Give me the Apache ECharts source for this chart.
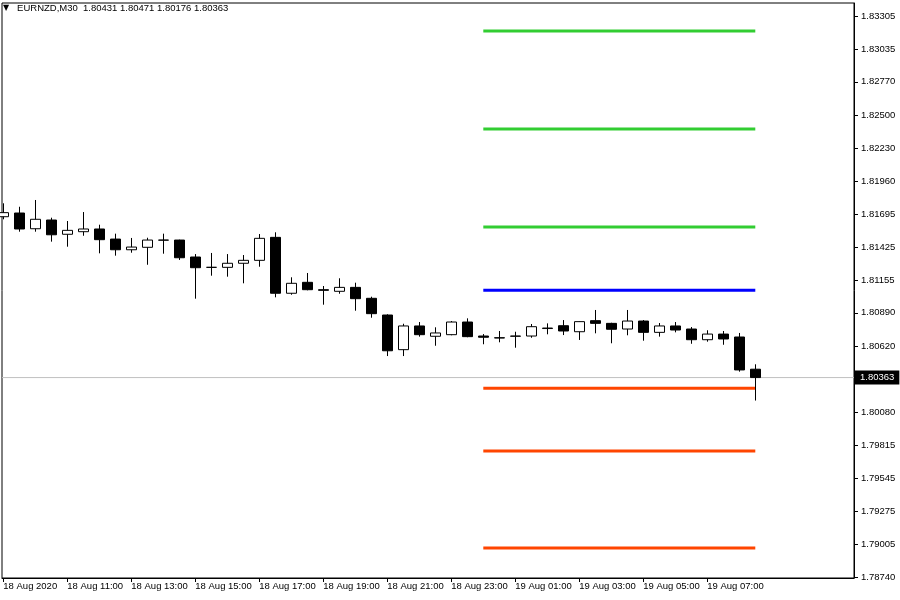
<!DOCTYPE html>
<html><head><meta charset="utf-8">
<script src="https://cdn.jsdelivr.net/npm/echarts@6/dist/echarts.min.js"></script>
<style>html,body{margin:0;padding:0;background:#fff}#c{width:900px;height:600px}</style>
</head><body><div id="c"></div>
<script>
const symbolName = 'EURNZD,M30';
// 30-minute bars from 18 Aug 2020 09:00 to 19 Aug 08:30 (index 0..47)
const opens = [1.81672,1.81702,1.81574,1.81645,1.81529,1.81550,1.81572,1.81490,1.81403,1.81423,
1.81481,1.81482,1.81344,1.81260,1.81260,1.81293,1.81317,1.81504,1.81049,1.81138,
1.81078,1.81065,1.81097,1.81008,1.80872,1.80590,1.80783,1.80699,1.80712,1.80815,
1.80701,1.80687,1.80699,1.80701,1.80762,1.80785,1.80736,1.80826,1.80804,1.80758,
1.80823,1.80731,1.80783,1.80758,1.80671,1.80717,1.80693,1.80431];
const closes = [1.81705,1.81572,1.81651,1.81525,1.81561,1.81572,1.81485,1.81403,1.81425,1.81482,
1.81482,1.81338,1.81257,1.81260,1.81293,1.81317,1.81496,1.81049,1.81130,1.81078,
1.81073,1.81097,1.81005,1.80883,1.80581,1.80783,1.80712,1.80726,1.80815,1.80696,
1.80691,1.80685,1.80701,1.80777,1.80766,1.80742,1.80818,1.80804,1.80756,1.80823,
1.80731,1.80783,1.80750,1.80671,1.80717,1.80677,1.80425,1.80363];
const lows = [1.81651,1.81550,1.81550,1.81469,1.81428,1.81517,1.81374,1.81355,1.81379,1.81281,
1.81371,1.81320,1.81005,1.81192,1.81184,1.81130,1.81265,1.81016,1.81037,1.81073,
1.80956,1.81045,1.80907,1.80850,1.80538,1.80538,1.80696,1.80622,1.80707,1.80691,
1.80634,1.80650,1.80606,1.80687,1.80715,1.80709,1.80669,1.80723,1.80642,1.80707,
1.80663,1.80696,1.80731,1.80638,1.80655,1.80630,1.80411,1.80176];
const highs = [1.81781,1.81753,1.81808,1.81664,1.81637,1.81710,1.81607,1.81534,1.81499,1.81501,
1.81534,1.81485,1.81368,1.81377,1.81368,1.81360,1.81531,1.81545,1.81179,1.81214,
1.81108,1.81171,1.81135,1.81021,1.80878,1.80801,1.80815,1.80772,1.80823,1.80845,
1.80717,1.80742,1.80736,1.80799,1.80804,1.80831,1.80820,1.80913,1.80809,1.80913,
1.80831,1.80807,1.80815,1.80774,1.80748,1.80742,1.80726,1.80471];

const xTickBars = [0,4,8,12,16,20,24,28,32,36,40,44];
const xTickLabels = ['18 Aug 2020','18 Aug 11:00','18 Aug 13:00','18 Aug 15:00','18 Aug 17:00','18 Aug 19:00',
  '18 Aug 21:00','18 Aug 23:00','19 Aug 01:00','19 Aug 03:00','19 Aug 05:00','19 Aug 07:00'];
const yTicks = [1.83305,1.83035,1.82770,1.82500,1.82230,1.81960,1.81695,1.81425,1.81155,1.80890,1.80620,
  1.80080,1.79815,1.79545,1.79275,1.79005,1.78740];

// pivot-style levels drawn from bar 30 (19 Aug 00:00) to bar 47
const levelValues = [1.83183,1.82386,1.81588,1.81073,1.80276,1.79765,1.78976];
const levelFromBar = 30, levelToBar = 47;
const levelColors = ['#32CD32','#32CD32','#32CD32','#0000FF','#FF4500','#FF4500','#FF4500'];

const lastIdx = closes.length - 1;
const lastPrice = closes[lastIdx];
const font = '"Liberation Sans", Arial, sans-serif';
const xMin = -0.08125, xMax = 53.169;

const candleData = opens.map((o, i) => [i, o, closes[i], lows[i], highs[i]]);

const levelSeries = levelValues.map((v, i) => ({
  type: 'line', silent: true, symbol: 'none', animation: false,
  data: [[levelFromBar, v], [levelToBar, v]],
  lineStyle: { color: levelColors[i], width: 3 }, z: 3
}));

const chart = echarts.init(document.getElementById('c'), null, { renderer: 'canvas' });
chart.setOption({
  animation: false,
  backgroundColor: '#fff',
  title: {
    left: 3, top: 3, padding: 0,
    text: '{t|▼}   ' + symbolName + '  ' + [opens[lastIdx], highs[lastIdx], lows[lastIdx], closes[lastIdx]].map(v => v.toFixed(5)).join(' '),
    textStyle: { fontSize: 9.5, fontWeight: 'normal', color: '#000', fontFamily: font,
      rich: { t: { fontSize: 8, color: '#000', fontFamily: '"DejaVu Sans", sans-serif' } } }
  },
  grid: { left: 2, right: 46, top: 3, bottom: 22, show: true, borderColor: '#000', borderWidth: 1, backgroundColor: '#fff' },
  xAxis: {
    type: 'value', min: xMin, max: xMax, scale: true,
    axisLine: { show: true, onZero: false, lineStyle: { color: '#000', width: 1 } },
    axisTick: { show: true, inside: false, length: 4, customValues: xTickBars, lineStyle: { color: '#000' } },
    axisLabel: { show: true, customValues: xTickBars, align: 'left', margin: 3, color: '#000', fontSize: 9.5, fontFamily: font,
      formatter: v => xTickLabels[xTickBars.indexOf(Math.round(v))] || '' },
    splitLine: { show: false }
  },
  yAxis: {
    type: 'value', position: 'right', min: 1.78732, max: 1.83411, scale: true,
    axisLine: { show: true, onZero: false, lineStyle: { color: '#000', width: 1 } },
    axisTick: { show: true, inside: false, length: 4, customValues: yTicks, lineStyle: { color: '#000' } },
    axisLabel: { show: true, customValues: yTicks, margin: 7, color: '#000', fontSize: 9.5, fontFamily: font,
      formatter: v => v.toFixed(5) },
    splitLine: { show: false }
  },
  series: [{
    type: 'line', silent: true, symbol: 'none', z: 1,
    data: [[xMin, lastPrice], [xMax, lastPrice]],
    lineStyle: { color: '#c0c0c0', width: 1 },
    endLabel: { show: true, distance: 0, formatter: () => lastPrice.toFixed(5), color: '#fff', backgroundColor: '#000',
      padding: [2, 5, 2, 6], fontSize: 9.5, fontFamily: font }
  }, {
    type: 'candlestick', barWidth: 10, clip: true, z: 4,
    encode: { x: 0, y: [1, 2, 3, 4] },
    data: candleData,
    itemStyle: { color: '#fff', color0: '#000', borderColor: '#000', borderColor0: '#000', borderColorDoji: '#000', borderWidth: 1 }
  }].concat(levelSeries)
});
</script></body></html>
